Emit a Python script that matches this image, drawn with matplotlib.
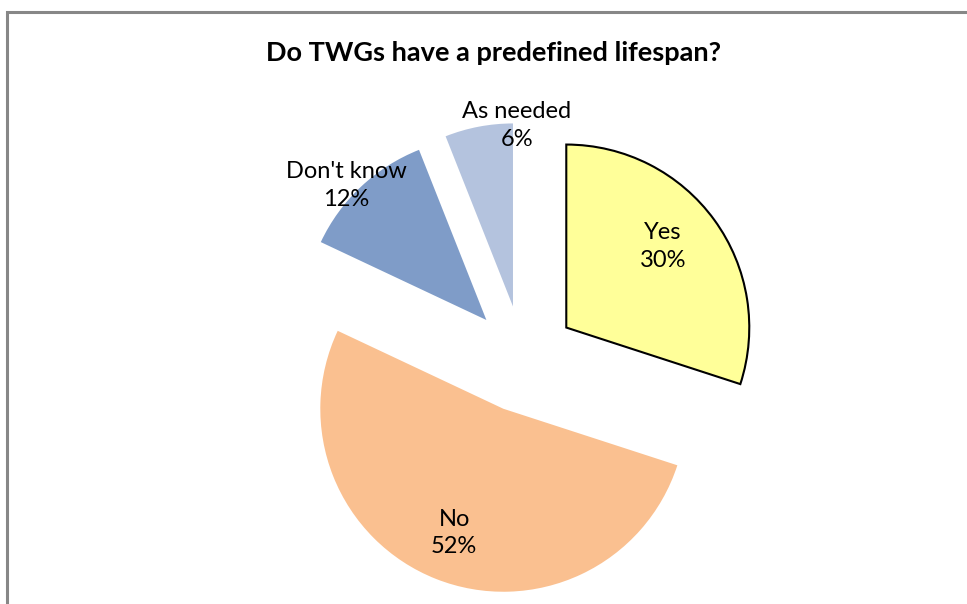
import numpy as np
import matplotlib.pyplot as plt
from matplotlib.patches import Rectangle

plt.rcParams['font.family'] = ['Lato', 'DejaVu Sans']

categories = ['Yes', 'No', "Don't know", 'As needed']
shares = [30, 52, 12, 6]
colors = ['#FFFF99', '#FAC090', '#7F9CC8', '#B4C3DE']
edges = ['black', 'none', 'none', 'none']
# label placement per slice: distance (in radii from the slice tip) and angle tweak
label_dist = [0.69, 0.73, 1.06, 0.99]
label_turn = [4, 0, 3, -12]

W, H = 967, 604
fig = plt.figure(figsize=(W / 100, H / 100), dpi=100)
ax = fig.add_axes([0, 0, 1, 1])

# chart area frame
ax.add_patch(Rectangle((7, -10), W, H - 12 + 10, fill=False, edgecolor='#878787', lw=2.2))

radius = 183
wedges, _ = ax.pie(shares, colors=colors, explode=[53.5] * 4, startangle=90,
                   counterclock=False, radius=radius, center=(523, H - 359),
                   frame=True)
ax.set_xlim(0, W)
ax.set_ylim(0, H)
ax.set_aspect('equal')
ax.axis('off')

for w, ec in zip(wedges, edges):
    w.set_edgecolor(ec)
    w.set_linewidth(1.5 if ec != 'none' else 0)

for w, name, val, d, t in zip(wedges, categories, shares, label_dist, label_turn):
    mid = np.deg2rad((w.theta1 + w.theta2) / 2 + t)
    cx, cy = w.center
    x = cx + d * radius * np.cos(mid)
    y = cy + d * radius * np.sin(mid)
    ax.text(x, y, f'{name}\n{val}%', ha='center', va='center', fontsize=17,
            linespacing=1.4, color='black')

ax.text(493, H - 53, 'Do TWGs have a predefined lifespan?', ha='center', va='center',
        fontsize=19.5, fontweight='bold')

fig.savefig('out.png', dpi=100)
